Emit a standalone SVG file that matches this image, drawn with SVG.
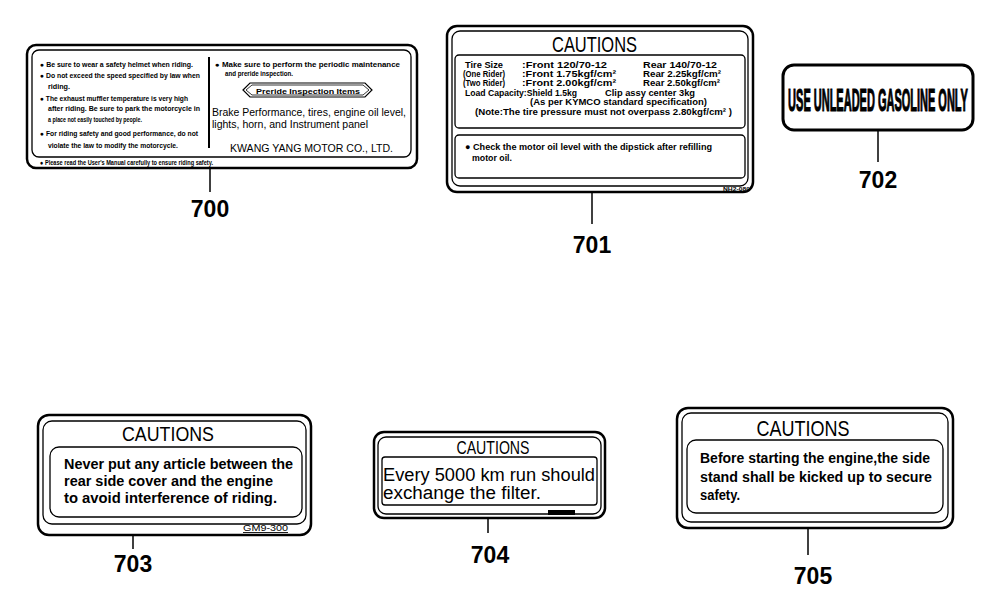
<svg xmlns="http://www.w3.org/2000/svg" width="1000" height="607" viewBox="0 0 1000 607">
<style>
.ob{fill:#fff;stroke:#000;stroke-width:2.5}
.ib{fill:none;stroke:#000;stroke-width:1.3}
.t{font-family:"Liberation Sans",Arial,sans-serif;fill:#000}
.tb{font-family:"Liberation Sans",Arial,sans-serif;font-weight:bold;fill:#000}
.tiny{font-family:"Liberation Sans",Arial,sans-serif;font-weight:bold;font-size:6.5px;fill:#000}
.tab{font-family:"Liberation Sans",Arial,sans-serif;font-weight:bold;font-size:9px;fill:#000}
.cau{font-family:"Liberation Sans",Arial,sans-serif;text-anchor:middle;fill:#000}
.num{font-family:"Liberation Sans",Arial,sans-serif;font-weight:bold;font-size:23px;text-anchor:middle;fill:#000}
.lead{stroke:#000;stroke-width:1.5;fill:none}
</style>
<rect width="1000" height="607" fill="#fff"/>

<g id="connectors">
<line class="lead" x1="210" y1="168" x2="210" y2="192"/>
<line class="lead" x1="592" y1="192" x2="592" y2="224"/>
<line class="lead" x1="878" y1="130" x2="878" y2="162"/>
<line class="lead" x1="133" y1="535" x2="133" y2="549"/>
<line class="lead" x1="488" y1="518" x2="488" y2="533"/>
<line class="lead" x1="808" y1="528" x2="808" y2="555"/>
</g>

<g id="label-700">
<rect class="ob" x="27" y="45" width="390" height="123" rx="9"/>
<rect class="ib" x="32" y="50" width="379" height="107" rx="7"/>
<line x1="209" y1="57" x2="209" y2="148" stroke="#000" stroke-width="2"/>
<text class="tiny" x="40" y="67" textLength="153" lengthAdjust="spacingAndGlyphs">● Be sure to wear a safety helmet when riding.</text>
<text class="tiny" x="40" y="77.5" textLength="160" lengthAdjust="spacingAndGlyphs">● Do not exceed  the speed specified by law when</text>
<text class="tiny" x="48" y="88.5" textLength="22" lengthAdjust="spacingAndGlyphs">riding.</text>
<text class="tiny" x="40" y="101" textLength="148" lengthAdjust="spacingAndGlyphs">● The exhaust muffler temperature is very high</text>
<text class="tiny" x="48" y="111" textLength="152" lengthAdjust="spacingAndGlyphs">after riding. Be sure to park the motorcycle in</text>
<text class="tiny" x="48" y="121.5" textLength="94" lengthAdjust="spacingAndGlyphs">a place not easily touched by people.</text>
<text class="tiny" x="40" y="136" textLength="158" lengthAdjust="spacingAndGlyphs">● For riding safety and good performance, do not</text>
<text class="tiny" x="48" y="148" textLength="130" lengthAdjust="spacingAndGlyphs">violate the law to modify the motorcycle.</text>
<text class="tiny" x="40" y="165" textLength="173" lengthAdjust="spacingAndGlyphs">● Please read the User's Manual carefully to ensure riding safety.</text>
<text class="tiny" x="215" y="67" textLength="185" lengthAdjust="spacingAndGlyphs">● Make sure to perform the periodic maintenance</text>
<text class="tiny" x="225" y="75.5" textLength="68" lengthAdjust="spacingAndGlyphs">and preride inspection.</text>
<polygon points="243,90 250,83 365,83 372,90 365,97 250,97" fill="none" stroke="#000" stroke-width="1.2"/>
<polygon points="246,90 252,85 363,85 369,90 363,95 252,95" fill="none" stroke="#000" stroke-width="0.8"/>
<text class="tb" x="256" y="93.5" font-size="8" textLength="104" lengthAdjust="spacingAndGlyphs">Preride Inspection Items</text>
<text class="t" x="212" y="116" font-size="11" textLength="194" lengthAdjust="spacingAndGlyphs">Brake Performance, tires, engine oil level,</text>
<text class="t" x="212" y="128" font-size="11" textLength="156" lengthAdjust="spacingAndGlyphs">lights, horn, and Instrument panel</text>
<text class="t" x="230" y="152" font-size="10" textLength="163" lengthAdjust="spacingAndGlyphs">KWANG YANG MOTOR CO., LTD.</text>
<text class="num" x="210" y="217">700</text>
</g>

<g id="label-701">
<rect class="ob" x="447" y="26" width="306" height="166" rx="10"/>
<rect class="ib" x="452" y="31" width="296" height="155" rx="8"/>
<text class="cau" x="594.5" y="52" font-size="22" textLength="85" lengthAdjust="spacingAndGlyphs">CAUTIONS</text>
<rect class="ib" x="455" y="55" width="290" height="73" rx="4" stroke-width="1.6"/>
<text class="tab" x="465" y="67.5" textLength="38" lengthAdjust="spacingAndGlyphs">Tire Size</text>
<text class="tab" x="522" y="67.5" textLength="85" lengthAdjust="spacingAndGlyphs">:Front 120/70-12</text>
<text class="tab" x="643" y="67.5" textLength="74" lengthAdjust="spacingAndGlyphs">Rear 140/70-12</text>
<text class="tab" x="463" y="77" textLength="42" lengthAdjust="spacingAndGlyphs">(One Rider)</text>
<text class="tab" x="522" y="77" textLength="94" lengthAdjust="spacingAndGlyphs">:Front 1.75kgf/cm²</text>
<text class="tab" x="643" y="77" textLength="78" lengthAdjust="spacingAndGlyphs">Rear 2.25kgf/cm²</text>
<text class="tab" x="463" y="86" textLength="42" lengthAdjust="spacingAndGlyphs">(Two Rider)</text>
<text class="tab" x="522" y="86" textLength="94" lengthAdjust="spacingAndGlyphs">:Front 2.00kgf/cm²</text>
<text class="tab" x="643" y="86" textLength="77" lengthAdjust="spacingAndGlyphs">Rear 2.50kgf/cm²</text>
<text class="tab" x="465" y="95.5" textLength="112" lengthAdjust="spacingAndGlyphs">Load Capacity:Shield 1.5kg</text>
<text class="tab" x="605" y="95.5" textLength="90" lengthAdjust="spacingAndGlyphs">Clip assy center 3kg</text>
<text class="tab" x="530" y="105" textLength="177" lengthAdjust="spacingAndGlyphs">(As per KYMCO standard specification)</text>
<text class="tab" x="475" y="114.5" textLength="257" lengthAdjust="spacingAndGlyphs">(Note:The tire pressure must not overpass 2.80kgf/cm² )</text>
<rect class="ib" x="455" y="135" width="290" height="43" rx="4" stroke-width="1.6"/>
<text class="tab" x="465" y="150" textLength="247" lengthAdjust="spacingAndGlyphs">● Check the motor oil level with the dipstick after refilling</text>
<text class="tab" x="472" y="161" textLength="40" lengthAdjust="spacingAndGlyphs">motor oil.</text>
<text class="tb" x="723" y="190.5" font-size="6" textLength="27" lengthAdjust="spacingAndGlyphs">NH2-080</text>
<text class="num" x="592" y="253">701</text>
</g>

<g id="label-702">
<rect x="783" y="65" width="190" height="65" rx="11" fill="#fff" stroke="#000" stroke-width="3"/>
<text class="tb" transform="translate(878,111) scale(0.42,1)" x="0" y="0" font-size="31" font-weight="900" text-anchor="middle" stroke="#000" stroke-width="1.2" textLength="428" lengthAdjust="spacingAndGlyphs">USE UNLEADED GASOLINE ONLY</text>
<text class="num" x="878" y="188">702</text>
</g>

<g id="label-703">
<rect class="ob" x="38" y="415" width="273" height="120" rx="11"/>
<rect class="ib" x="43" y="421" width="263" height="103" rx="9"/>
<text class="cau" x="168" y="441" font-size="21" textLength="92" lengthAdjust="spacingAndGlyphs">CAUTIONS</text>
<rect class="ib" x="50" y="447" width="252" height="70" rx="9" stroke-width="1.6"/>
<text class="tb" x="64" y="469" font-size="14.5" textLength="229" lengthAdjust="spacingAndGlyphs">Never put any article between the</text>
<text class="tb" x="64" y="486" font-size="14.5" textLength="209" lengthAdjust="spacingAndGlyphs">rear side cover and the engine</text>
<text class="tb" x="64" y="503" font-size="14.5" textLength="213" lengthAdjust="spacingAndGlyphs">to avoid interference of riding.</text>
<text class="t" x="243" y="531" font-size="9" textLength="45" lengthAdjust="spacingAndGlyphs" text-decoration="underline">GM9-300</text>
<text class="num" x="133" y="572">703</text>
</g>

<g id="label-704">
<rect class="ob" x="374" y="432" width="231" height="86" rx="10"/>
<rect class="ib" x="378" y="437" width="223" height="77" rx="8"/>
<text class="cau" x="493" y="454" font-size="18" textLength="73" lengthAdjust="spacingAndGlyphs">CAUTIONS</text>
<rect class="ib" x="382" y="457" width="215" height="48" rx="3" stroke-width="1.6"/>
<text class="t" x="383" y="481" font-size="18" textLength="212" lengthAdjust="spacingAndGlyphs">Every 5000 km run should</text>
<text class="t" x="383" y="499" font-size="18" textLength="158" lengthAdjust="spacingAndGlyphs">exchange the filter.</text>
<rect x="548" y="510" width="27" height="5" fill="#000"/>
<text class="num" x="490" y="563">704</text>
</g>

<g id="label-705">
<rect class="ob" x="677" y="408" width="276" height="120" rx="11"/>
<rect class="ib" x="682" y="413" width="266" height="109" rx="9"/>
<text class="cau" x="803" y="436" font-size="22" textLength="93" lengthAdjust="spacingAndGlyphs">CAUTIONS</text>
<rect class="ib" x="687" y="440" width="256" height="73" rx="9" stroke-width="1.6"/>
<text class="tb" x="700" y="463" font-size="14.5" textLength="230" lengthAdjust="spacingAndGlyphs">Before starting the engine,the side</text>
<text class="tb" x="700" y="482" font-size="14.5" textLength="232" lengthAdjust="spacingAndGlyphs">stand shall be kicked up to secure</text>
<text class="tb" x="700" y="500" font-size="14.5" textLength="40" lengthAdjust="spacingAndGlyphs">safety.</text>
<text class="num" x="813" y="584">705</text>
</g>
</svg>
